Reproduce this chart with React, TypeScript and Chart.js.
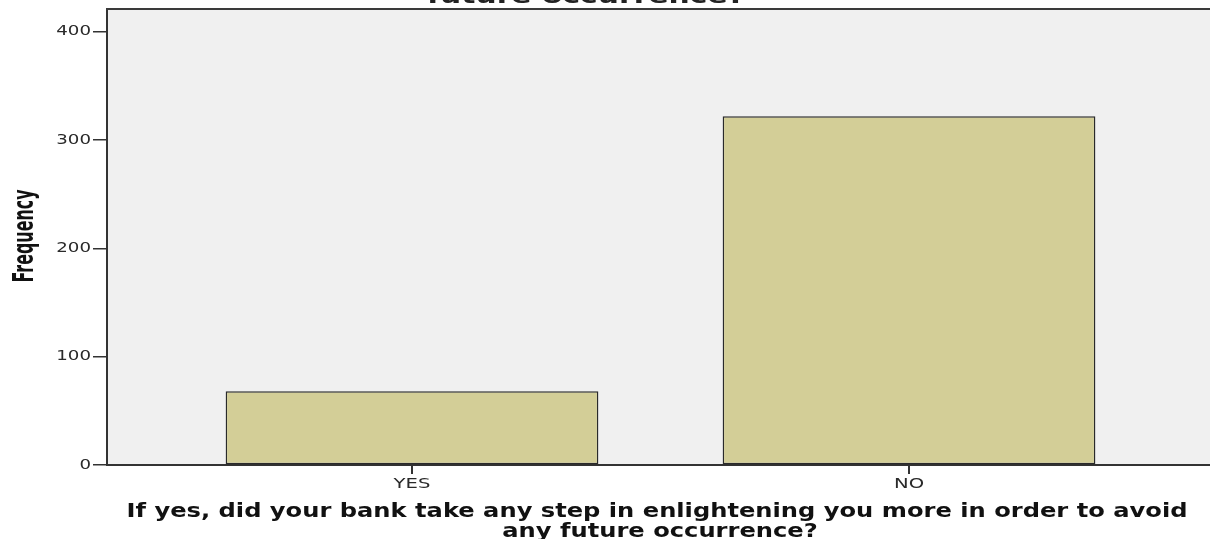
import React, { useEffect, useRef } from 'react';
import { Chart, registerables } from 'chart.js';

Chart.register(...registerables);

const categories = ['YES', 'NO'];
const frequencies = [68, 322];
const yTickValues = [0, 100, 200, 300, 400];
const yMax = 421;
const xTitleLines = [
  'If yes, did your bank take any step in enlightening you more in order to avoid',
  'any future occurrence?',
];
const topTitleVisible = 'future occurrence?';
const yTitle = 'Frequency';

function drawText(
  ctx: CanvasRenderingContext2D,
  text: string,
  font: string,
  x: number,
  y: number,
  sx: number,
  color: string,
  align: CanvasTextAlign = 'center',
  baseline: CanvasTextBaseline = 'alphabetic',
  rotate = false
) {
  ctx.save();
  ctx.font = font;
  ctx.fillStyle = color;
  ctx.textAlign = align;
  ctx.textBaseline = baseline;
  ctx.translate(x, y);
  if (rotate) ctx.rotate(-Math.PI / 2);
  ctx.scale(sx, 1);
  ctx.fillText(text, 0, 0);
  ctx.restore();
}

function fitScale(ctx: CanvasRenderingContext2D, text: string, font: string, target: number) {
  ctx.save();
  ctx.font = font;
  const w = ctx.measureText(text).width;
  ctx.restore();
  return target / w;
}

export default function App() {
  const ref = useRef<HTMLCanvasElement>(null);

  useEffect(() => {
    document.body.style.margin = '0';
    document.body.style.overflow = 'hidden';
    const canvas = ref.current!;

    const plugin = {
      id: 'spssLook',
      beforeDraw(chart: any) {
        const { ctx, chartArea: a } = chart;
        ctx.save();
        ctx.fillStyle = '#f0f0f0';
        ctx.fillRect(a.left, a.top, a.right - a.left, a.bottom - a.top);
        ctx.restore();
      },
      afterDraw(chart: any) {
        const { ctx, chartArea: a } = chart;
        // top frame line
        ctx.save();
        ctx.strokeStyle = '#3a3a3a';
        ctx.lineWidth = 2;
        ctx.beginPath();
        ctx.moveTo(a.left - 1, a.top);
        ctx.lineTo(a.right, a.top);
        ctx.stroke();
        ctx.restore();

        // tick labels and x tick marks from the library's scales
        const tickFont = '14px "DejaVu Sans", sans-serif';
        const ys = chart.scales.y;
        ys.ticks.forEach((t: any) => {
          const py = ys.getPixelForValue(t.value);
          drawText(ctx, String(t.value), tickFont, 91, py, 1.3, '#2a2a2a', 'right', 'middle');
        });
        const xs = chart.scales.x;
        xs.ticks.forEach((t: any) => {
          const px = xs.getPixelForValue(t.value);
          ctx.save();
          ctx.strokeStyle = '#333';
          ctx.lineWidth = 2;
          ctx.beginPath();
          ctx.moveTo(px, a.bottom + 1);
          ctx.lineTo(px, a.bottom + 9);
          ctx.stroke();
          ctx.restore();
          drawText(ctx, categories[t.value], tickFont, px, 488, 1.4, '#2a2a2a', 'center', 'alphabetic');
        });

        // x axis title (two lines)
        const xFont = 'bold 19px "DejaVu Sans", Verdana, sans-serif';
        const sx = fitScale(ctx, xTitleLines[0], xFont, 1061);
        drawText(ctx, xTitleLines[0], xFont, 657, 517, sx, '#111');
        drawText(ctx, xTitleLines[1], xFont, 660, 537, sx, '#111');

        // cut-off chart title at the very top
        const tFont = 'bold 22px "DejaVu Sans", Verdana, sans-serif';
        drawText(ctx, topTitleVisible, tFont, 586, 2.5, fitScale(ctx, topTitleVisible, tFont, 318), '#222');

        // y axis title, rotated and condensed
        const yFont = 'bold 28px "DejaVu Sans", sans-serif';
        drawText(ctx, yTitle, yFont, 33, 236, fitScale(ctx, yTitle, yFont, 93), '#111', 'center', 'alphabetic', true);
      },
    };

    const chart = new Chart(canvas, {
      type: 'bar',
      data: {
        datasets: [
          {
            data: frequencies.map((v, i) => ({ x: i, y: v })),
            backgroundColor: '#d3ce97',
            borderColor: '#2a2a2a',
            borderWidth: 1.5,
            borderSkipped: false,
            barPercentage: 0.75,
            categoryPercentage: 1,
          },
        ],
      },
      options: {
        animation: false,
        responsive: false,
        devicePixelRatio: 1,
        layout: { padding: { left: 0, top: 9, right: 0, bottom: 0 } },
        plugins: {
          legend: { display: false },
          tooltip: { enabled: false },
          title: { display: false },
        },
        scales: {
          x: {
            type: 'linear',
            offset: false,
            min: -0.6137,
            max: 1.6056,
            afterBuildTicks: (scale: any) => {
              scale.ticks = categories.map((_, i) => ({ value: i }));
            },
            afterFit: (scale: any) => {
              scale.height = 74;
            },
            grid: { display: false },
            border: { display: true, color: '#333', width: 2 },
            ticks: { display: false },
          },
          y: {
            type: 'linear',
            min: 0,
            max: yMax,
            afterBuildTicks: (scale: any) => {
              scale.ticks = yTickValues.map((v) => ({ value: v }));
            },
            afterFit: (scale: any) => {
              scale.width = 107;
            },
            grid: {
              drawOnChartArea: false,
              drawTicks: true,
              tickLength: 14,
              color: '#333',
              lineWidth: 1.5,
            },
            border: { display: true, color: '#333', width: 2 },
            ticks: { display: false },
          },
        },
      },
      plugins: [plugin],
    });

    return () => chart.destroy();
  }, []);

  return (
    <canvas
      ref={ref}
      width={1210}
      height={539}
      style={{ display: 'block', width: '1210px', height: '539px' }}
    />
  );
}
